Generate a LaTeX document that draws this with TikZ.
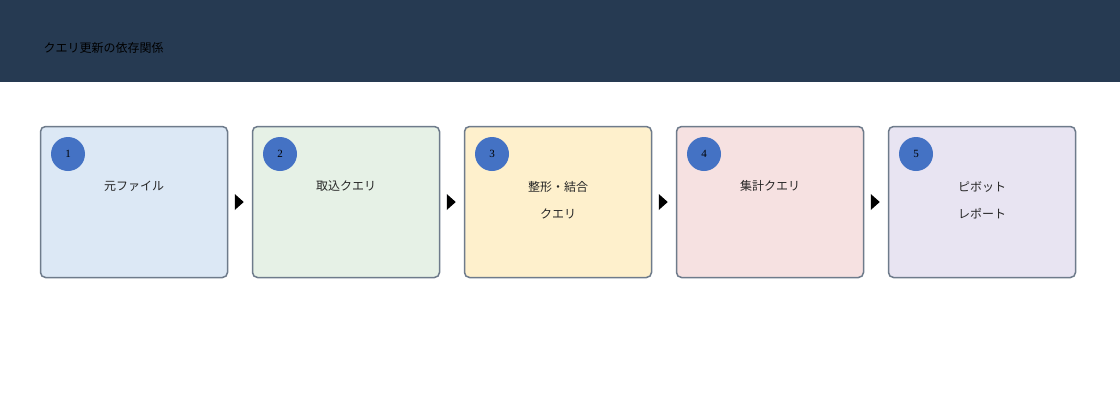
\documentclass[tikz,border=0pt]{standalone}
\usepackage{fontspec}
\newfontfamily\jp{Noto Sans CJK JP}
\setmainfont{Liberation Serif}
\begin{document}
\begin{tikzpicture}[x=1pt,y=-1pt,
 box/.style={line width=1.5pt,rounded corners=5pt,minimum width=187pt,minimum height=151pt,inner sep=0pt},
 lbl/.style={font=\jp\fontsize{12}{12}\selectfont,text=black!85}]
\definecolor{hdr}{HTML}{263A52}
\definecolor{nb}{HTML}{4472C4}
\definecolor{bd}{HTML}{6E7B8B}
\useasboundingbox (0,0) rectangle (1120,400);
\fill[white] (0,0) rectangle (1120,400);
\fill[hdr] (0,0) rectangle (1120,82);
\node[anchor=west,font=\jp\fontsize{12}{12}\selectfont,text=black] (t) at (40,48) {クエリ更新の依存関係};
\foreach \i/\c/\n in {1/DCE8F5/b1,2/E6F1E6/b2,3/FEF0CC/b3,4/F6E1E1/b4,5/E8E4F2/b5}{
 \definecolor{c\i}{HTML}{\c}
 \node[box,draw=bd,fill=c\i] (\n) at ({134+(\i-1)*212},202) {};
 \node[circle,fill=nb,minimum size=34pt,inner sep=0pt,font=\fontsize{11}{11}\selectfont] (n\i) at ({68+(\i-1)*212},154) {\i};
}
\node[lbl] (l1) at (134,186) {元ファイル};
\node[lbl] (l2) at (346,186) {取込クエリ};
\node[lbl] (l3a) at (558,187) {整形・結合};
\node[lbl] (l3b) at (558,214) {クエリ};
\node[lbl] (l4) at (770,186) {集計クエリ};
\node[lbl] (l5a) at (982,187) {ピボット};
\node[lbl] (l5b) at (982,214) {レポート};
\foreach \a in {b1,b2,b3,b4}{
 \fill (\a.east) ++(6.5,-8) -- ++(9,8) -- ++(-9,8) -- cycle;
}
\end{tikzpicture}
\end{document}
